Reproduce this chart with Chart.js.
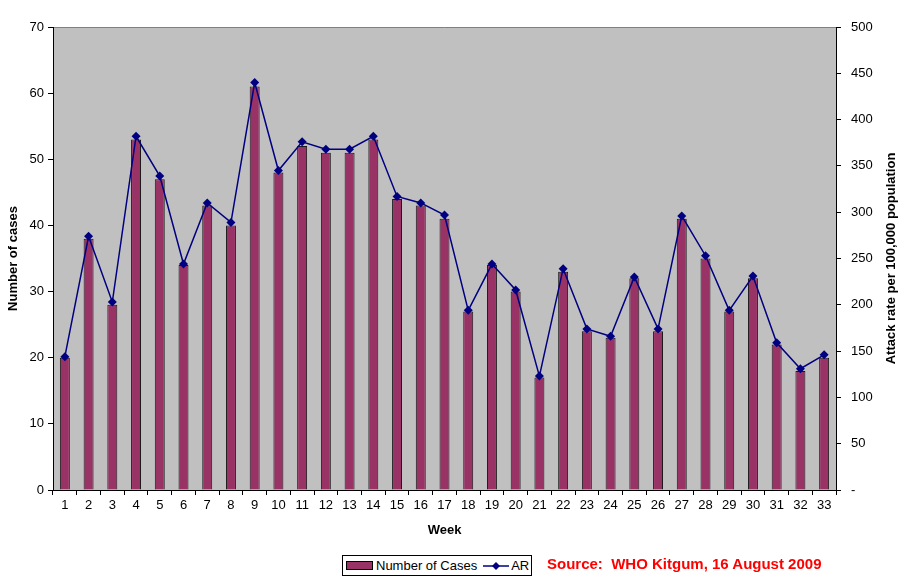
<!DOCTYPE html>
<html>
<head>
<meta charset="utf-8">
<script src="https://cdn.jsdelivr.net/npm/chart.js@4.4.0/dist/chart.umd.min.js"></script>
<style>
  html, body { margin: 0; padding: 0; background: #fff; }
  #wrap { position: relative; width: 922px; height: 585px; font-family: "Liberation Sans", Arial, sans-serif; }
  #legend {
    position: absolute; left: 342px; top: 555px; width: 188px; height: 19px;
    border: 1px solid #000; background: #fff; font-size: 13px; color: #000;
    display: flex; align-items: center; box-sizing: content-box;
  }
  #legend .sw { width: 25px; height: 7px; background: #993366; border: 1px solid #000; margin: 0 3px 0 3px; }
  #legend svg { margin: 0 2px 0 6px; }
  #source { position: absolute; left: 547px; top: 555px; font-size: 15px; font-weight: bold; color: #ff0000; white-space: pre; }
</style>
</head>
<body>
<div id="wrap">
  <canvas id="chart" width="922" height="585"></canvas>
  <div id="legend">
    <span class="sw"></span><span>Number of Cases</span>
    <svg width="26" height="10"><line x1="0" y1="5" x2="26" y2="5" stroke="#000080" stroke-width="1.5"/><polygon points="13,1 17,5 13,9 9,5" fill="#000080"/></svg><span>AR</span>
  </div>
  <div id="source">Source:  WHO Kitgum, 16 August 2009</div>
</div>
<script>
// ── Data ─────────────────────────────────────────────────────────────
const weeks = ['1','2','3','4','5','6','7','8','9','10','11','12','13','14','15','16','17',
               '18','19','20','21','22','23','24','25','26','27','28','29','30','31','32','33'];
const cases = [20, 38, 28, 53, 47, 34, 43, 40, 61, 48, 52, 51, 51, 53, 44, 43, 41,
               27, 34, 30, 17, 33, 24, 23, 32, 24, 41, 35, 27, 32, 22, 18, 20];
const attackRate = [144, 274, 203, 382, 339, 244, 310, 289, 440, 345, 376, 368, 368, 382, 317, 310, 297,
                    194, 244, 216, 123, 239, 174, 166, 230, 174, 296, 253, 194, 231, 159, 131, 146];
const rightTitle = 'Attack rate per 100,000 population';

// ── Plot background, top border, right-axis title ───────────────────
const plotBg = {
    id: 'plotBg',
    beforeDraw(chart) {
        const { ctx, chartArea: a } = chart;
        ctx.save();
        ctx.fillStyle = '#c0c0c0';
        ctx.fillRect(a.left, a.top, a.right - a.left, a.bottom - a.top);
        ctx.strokeStyle = '#808080';
        ctx.lineWidth = 1;
        ctx.beginPath();
        ctx.moveTo(a.left, a.top + 0.5);
        ctx.lineTo(a.right, a.top + 0.5);
        ctx.stroke();
        ctx.restore();
    },
    afterDraw(chart) {
        // right title reads bottom-to-top, like the left one
        const { ctx, chartArea: a } = chart;
        ctx.save();
        ctx.translate(891, (a.top + a.bottom) / 2);
        ctx.rotate(-Math.PI / 2);
        ctx.font = 'bold 13px "Liberation Sans"';
        ctx.fillStyle = '#000';
        ctx.textAlign = 'center';
        ctx.textBaseline = 'middle';
        ctx.fillText(rightTitle, 0, 0);
        ctx.restore();
    }
};

const tickFont = { family: 'Liberation Sans', size: 13 };
const titleFont = { family: 'Liberation Sans', size: 13, weight: 'bold' };

new Chart(document.getElementById('chart'), {
    data: {
        labels: weeks,
        datasets: [
            {
                type: 'line',
                label: 'AR',
                data: attackRate,
                yAxisID: 'y1',
                borderColor: '#000080',
                backgroundColor: '#000080',
                borderWidth: 1.5,
                pointStyle: 'rectRot',
                pointRadius: 4.5,
                pointBackgroundColor: '#000080',
                pointBorderWidth: 0,
                tension: 0,
                order: 0
            },
            {
                type: 'bar',
                label: 'Number of Cases',
                data: cases,
                yAxisID: 'y',
                backgroundColor: '#993366',
                borderColor: '#1a1a1a',
                borderWidth: 1,
                categoryPercentage: 1,
                barPercentage: 0.42,
                order: 1
            }
        ]
    },
    options: {
        responsive: false,
        animation: false,
        layout: { padding: { top: 27, left: 0, right: 20, bottom: 47 } },
        plugins: { legend: { display: false }, tooltip: { enabled: false } },
        scales: {
            x: {
                offset: true,
                grid: { offset: true, drawOnChartArea: false, color: '#000', tickLength: 5 },
                border: { color: '#000', width: 1 },
                ticks: { color: '#000', font: tickFont, padding: 3, maxRotation: 0, autoSkip: false },
                title: { display: true, text: 'Week', color: '#000', font: titleFont, padding: 0 },
                afterFit(s) { s.height = 48; }
            },
            y: {
                position: 'left',
                min: 0, max: 70,
                ticks: { stepSize: 10, color: '#000', font: tickFont, padding: 4 },
                grid: { drawOnChartArea: false, color: '#000', tickLength: 5 },
                border: { color: '#000', width: 1 },
                title: { display: true, text: 'Number of cases', color: '#000', font: titleFont, padding: 6 },
                afterFit(s) { s.width = 53; }
            },
            y1: {
                position: 'right',
                min: 0, max: 500,
                ticks: {
                    stepSize: 50, color: '#000', font: tickFont, padding: 10,
                    callback: v => v === 0 ? '-' : v
                },
                grid: { drawOnChartArea: false, color: '#000', tickLength: 5 },
                border: { color: '#000', width: 1 },
                afterFit(s) { s.width = 66; }
            }
        }
    },
    plugins: [plotBg]
});
</script>
</body>
</html>
